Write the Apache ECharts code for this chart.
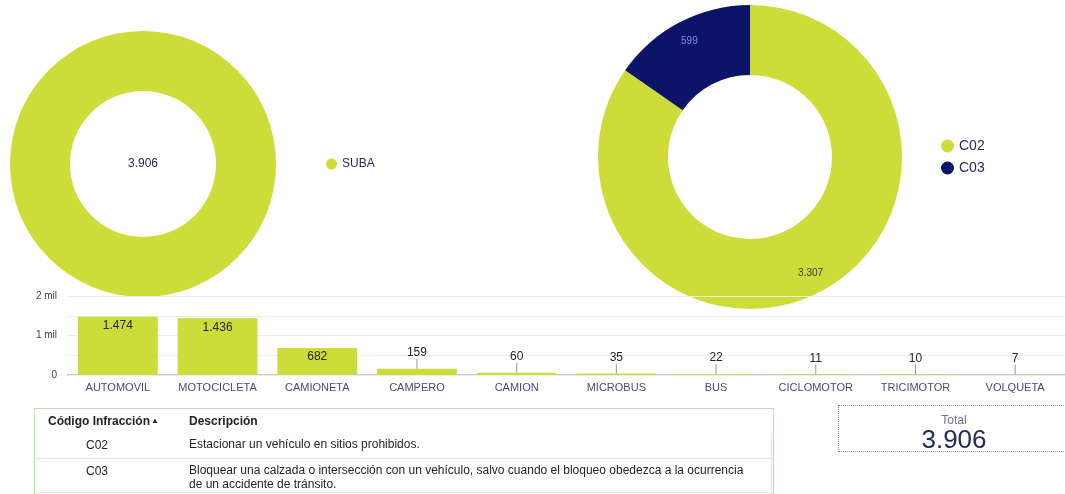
<!DOCTYPE html>
<html>
<head>
<meta charset="utf-8">
<script src="https://cdn.jsdelivr.net/npm/echarts@6/dist/echarts.min.js"></script>
<style>
  html, body { margin:0; padding:0; width:1065px; height:494px; overflow:hidden; background:#fff; font-family:"Liberation Sans", Arial, sans-serif; }
  #chart { position:absolute; left:0; top:0; width:1065px; height:494px; }
  #tbl { position:absolute; left:34px; top:408px; width:740px; height:110px; border:1.5px solid #b9dcb1; box-sizing:border-box; font-size:12px; color:#252423; }
  #tbl .row { position:absolute; left:0; width:100%; }
  #tbl .c1 { position:absolute; }
  #tbl .c2 { position:absolute; left:154px; line-height:14px; }
  #tbl .vline { position:absolute; right:1px; top:24px; width:1px; height:100px; background:#e4e4e4; }
  #total { position:absolute; left:838px; top:405px; width:232px; height:47px; border:1px dotted #8d8dab; box-sizing:border-box; text-align:center; }
</style>
</head>
<body>
<div id="chart"></div>
<div id="tbl"></div>
<div id="total"></div>
<script>
// ---- data ----
const localidades = ['SUBA'];
const localidadCounts = [3906];
const codigos = ['C02', 'C03'];
const codigoCounts = [3307, 599];
const categories = ['AUTOMOVIL','MOTOCICLETA','CAMIONETA','CAMPERO','CAMION','MICROBUS','BUS','CICLOMOTOR','TRICIMOTOR','VOLQUETA'];
const vehicleCounts = [1474, 1436, 682, 159, 60, 35, 22, 11, 10, 7];
const yTickLabels = { 0: '0', 1000: '1 mil', 2000: '2 mil' };
const tableHeaders = ['Código Infracción', 'Descripción'];
const tableCodes = ['C02', 'C03'];
const tableDescriptions = [
  'Estacionar un vehículo en sitios prohibidos.',
  'Bloquear una calzada o intersección con un vehículo, salvo cuando el bloqueo obedezca a la ocurrencia\nde un accidente de tránsito.'
];
const totalLabel = 'Total';
const totalValue = 3906;

// ---- helpers ----
const fmt = v => String(v).replace(/\B(?=(\d{3})+(?!\d))/g, '.');
const LIME = '#CDDC39';
const NAVY = '#0C1467';
const FONT = '"Liberation Sans", Arial, sans-serif';

const chart = echarts.init(document.getElementById('chart'), null, { renderer: 'canvas' });

const barData = vehicleCounts.map(v => {
  if (v >= 400) {
    return { value: v, label: { position: 'insideTop', distance: 3 } };
  }
  return { value: v, label: { position: 'top', distance: 10 } };
});
const leaderData = vehicleCounts.map((v, i) => [i, v]).filter(d => d[1] < 400);
const pieLabelOffsets = [[5, 10], [-5, -9]];

chart.setOption({
  animation: false,
  textStyle: { fontFamily: FONT },
  legend: [
    {
      data: localidades, left: 321, top: 153, orient: 'vertical',
      icon: 'circle', itemWidth: 11, itemHeight: 11, itemGap: 6,
      textStyle: { color: '#252c5a', fontSize: 12, fontFamily: FONT },
      selectedMode: false
    },
    {
      data: codigos, left: 936, top: 134, orient: 'vertical',
      icon: 'circle', itemWidth: 13, itemHeight: 13, itemGap: 8,
      textStyle: { color: '#252c5a', fontSize: 14, fontFamily: FONT },
      selectedMode: false
    }
  ],
  grid: { left: 68, top: 296, width: 1005, height: 79 },
  xAxis: {
    type: 'category', data: categories,
    axisLine: { lineStyle: { color: '#c6c6d6', width: 2 } },
    axisTick: { show: false },
    axisLabel: { color: '#4a4a78', fontSize: 11, margin: 7, fontFamily: FONT, interval: 0 }
  },
  yAxis: {
    type: 'value', min: 0, max: 2000, interval: 500, z: 3,
    axisLine: { show: false }, axisTick: { show: false },
    splitLine: { lineStyle: { color: '#ececec', width: 1 } },
    axisLabel: {
      color: '#3c3c66', fontSize: 10, margin: 11, fontFamily: FONT,
      formatter: v => (yTickLabels[v] !== undefined ? yTickLabels[v] : '')
    }
  },
  series: [
    {
      type: 'pie', z: 1,
      center: [143, 164], radius: [73, 133],
      silent: true,
      label: { show: true, position: 'center', color: '#252c5a', fontSize: 12, fontFamily: FONT,
        formatter: p => fmt(p.value) },
      labelLine: { show: false },
      itemStyle: { color: LIME },
      data: localidades.map((n, i) => ({ name: n, value: localidadCounts[i] }))
    },
    {
      type: 'pie', z: 1,
      center: [750, 157], radius: [82, 152],
      startAngle: 90, clockwise: true, silent: true,
      label: { show: true, position: 'inside', fontSize: 10, fontFamily: FONT,
        formatter: p => fmt(p.value) },
      labelLine: { show: false },
      data: codigos.map((n, i) => ({
        name: n, value: codigoCounts[i],
        itemStyle: { color: i === 0 ? LIME : NAVY },
        label: { color: i === 0 ? '#3a3a3a' : '#7f8ee6', offset: pieLabelOffsets[i] }
      }))
    },
    {
      type: 'bar', z: 4,
      data: barData,
      barCategoryGap: '20%',
      itemStyle: { color: LIME },
      label: { show: true, color: '#252423', fontSize: 12, fontFamily: FONT,
        formatter: p => fmt(p.value) },
      silent: true
    },
    {
      type: 'custom', z: 5, silent: true,
      data: leaderData,
      encode: { x: 0, y: 1 },
      renderItem: (params, api) => {
        const p = api.coord([api.value(0), api.value(1)]);
        return {
          type: 'line',
          shape: { x1: p[0], y1: p[1], x2: p[0], y2: p[1] - 10 },
          style: { stroke: '#9a9a9a', lineWidth: 1 }
        };
      }
    }
  ]
});

// ---- table ----
const tbl = document.getElementById('tbl');
let html = '';
html += '<div class="row" style="top:0;height:24px;font-weight:bold;">' +
  '<span class="c1" style="left:13px;top:5px;">' + tableHeaders[0] + ' <span style="font-size:8px;position:relative;top:-2px;">&#9652;</span></span>' +
  '<span class="c2" style="top:5px;">' + tableHeaders[1] + '</span></div>';
const rowTops = [24, 50];
const rowHeights = [25, 33];
tableCodes.forEach((c, i) => {
  html += '<div class="row" style="top:' + rowTops[i] + 'px;height:' + rowHeights[i] + 'px;border-bottom:1px solid #e6e6e6;">' +
    '<span class="c1" style="left:51px;top:5px;">' + c + '</span>' +
    '<span class="c2" style="top:4px;">' + tableDescriptions[i].replace('\n', '<br>') + '</span></div>';
});
html += '<div class="vline"></div>';
tbl.innerHTML = html;

// ---- total card ----
document.getElementById('total').innerHTML =
  '<div style="font-size:12px;color:#6e6e8c;margin-top:7px;line-height:14px;">' + totalLabel + '</div>' +
  '<div style="font-size:26px;color:#252c5a;line-height:24px;">' + fmt(totalValue) + '</div>';
</script>
</body>
</html>
